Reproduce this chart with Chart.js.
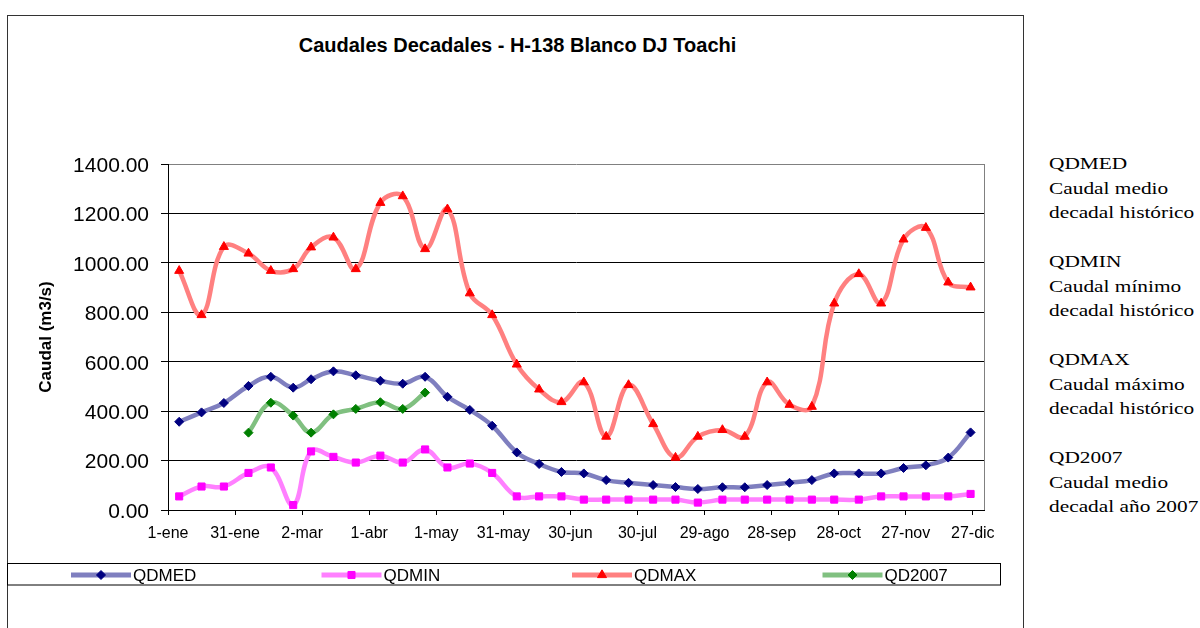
<!DOCTYPE html>
<html>
<head>
<meta charset="utf-8">
<title>Caudales Decadales - H-138 Blanco DJ Toachi</title>
<script src="https://cdn.jsdelivr.net/npm/chart.js@4.4.1/dist/chart.umd.min.js"></script>
<style>
  html, body { margin: 0; padding: 0; background: #fff; }
  body { width: 1200px; height: 628px; position: relative; overflow: hidden; }
  #marco { position: absolute; left: 7px; top: 15px; width: 1017px; height: 640px; border: 1px solid #333; box-sizing: border-box; }
  #grafico { position: absolute; left: 0; top: 0; }
  #titulo { position: absolute; left: 0; top: 33px; width: 1035px; text-align: center;
    font: bold 20px/24px "Liberation Sans", Arial, sans-serif; color: #000; }
  #notas { position: absolute; left: 1049px; top: 151px; color: #000; white-space: nowrap;
    font-family: "Liberation Serif", "Times New Roman", serif; font-size: 17.5px; line-height: 24.5px;
    transform: scaleX(1.22); transform-origin: 0 0; }
  #notas p { margin: 0 0 24.5px 0; }
</style>
</head>
<body>
<div id="marco"></div>
<div id="titulo">Caudales Decadales - H-138 Blanco DJ Toachi</div>
<canvas id="grafico" width="1030" height="628"></canvas>
<div id="notas">
  <p>QDMED<br>Caudal medio<br>decadal histórico</p>
  <p>QDMIN<br>Caudal mínimo<br>decadal histórico</p>
  <p>QDMAX<br>Caudal máximo<br>decadal histórico</p>
  <p>QD2007<br>Caudal medio<br>decadal año 2007</p>
</div>
<script>
// dia del anio (1-ene = 0) de cada decada: 6, 16 y 26 de cada mes
var diasDecada = [5, 15, 25, 36, 46, 56, 64, 74, 84, 95, 105, 115,
  125, 135, 145, 156, 166, 176, 186, 196, 206, 217, 227, 237,
  248, 258, 268, 278, 288, 298, 309, 319, 329, 339, 349, 359];

// etiquetas del eje x cada 30 dias
var diasEtiqueta = [0, 30, 60, 90, 120, 150, 180, 210, 240, 270, 300, 330, 360];
var etiquetasX = ['1-ene', '31-ene', '2-mar', '1-abr', '1-may', '31-may', '30-jun',
  '30-jul', '29-ago', '28-sep', '28-oct', '27-nov', '27-dic'];

var qdmed = [357, 395, 433, 502, 539, 495, 529, 561, 545, 523, 511, 539,
  458, 405, 341, 233, 186, 154, 148, 121, 110, 101, 93, 85,
  92, 92, 101, 110, 121, 148, 148, 148, 170, 181, 212, 314];
var qdmin = [55, 95, 95, 150, 172, 20, 237, 215, 192, 220, 192, 245,
  172, 188, 150, 55, 55, 55, 42, 42, 42, 42, 42, 30,
  42, 42, 42, 42, 42, 42, 42, 55, 55, 55, 55, 65];
var qdmax = [968, 789, 1065, 1038, 968, 975, 1063, 1103, 975, 1243, 1270, 1056,
  1217, 877, 789, 589, 488, 437, 517, 297, 506, 348, 212, 297,
  324, 297, 517, 426, 418, 836, 955, 836, 1095, 1142, 921, 901];
var qd2007 = [null, null, null, 313, 434, 382, 313, 387, 409, 436, 409, 475,
  null, null, null, null, null, null, null, null, null, null, null, null,
  null, null, null, null, null, null, null, null, null, null, null, null];

function serie(valores) {
  return valores.map(function (v, i) {
    return { x: diasDecada[i], y: v };
  });
}

function dataset(nombre, valores, linea, marca, estilo, radio, orden) {
  return {
    label: nombre,
    data: serie(valores),
    borderColor: linea,
    borderWidth: 4.5,
    pointStyle: estilo,
    pointRadius: radio,
    pointBackgroundColor: marca,
    pointBorderColor: marca,
    pointBorderWidth: 1,
    tension: 0.4,
    fill: false,
    order: orden
  };
}

var fuente = '"Liberation Sans", Arial, sans-serif';

// borde gris a la derecha del area de trazado
var bordePlugin = {
  id: 'bordePlot',
  beforeDatasetsDraw: function (chart) {
    var a = chart.chartArea, ctx = chart.ctx;
    ctx.save();
    ctx.strokeStyle = '#808080';
    ctx.lineWidth = 1;
    ctx.beginPath();
    ctx.moveTo(Math.round(a.right) + 0.5, a.top);
    ctx.lineTo(Math.round(a.right) + 0.5, a.bottom);
    ctx.stroke();
    ctx.restore();
  }
};

// leyenda en caja debajo del grafico, linea + marcador como en excel
var leyendaPlugin = {
  id: 'leyendaCaja',
  afterDraw: function (chart) {
    var ctx = chart.ctx;
    ctx.save();
    ctx.strokeStyle = '#000';
    ctx.lineWidth = 1;
    ctx.strokeRect(7.5, 563.5, 993, 21.5);
    chart.data.datasets.forEach(function (ds, i) {
      var x0 = 71 + i * 250.5, y = 575;
      ctx.strokeStyle = ds.borderColor;
      ctx.lineWidth = 5;
      ctx.beginPath();
      ctx.moveTo(x0, y);
      ctx.lineTo(x0 + 60, y);
      ctx.stroke();
      ctx.fillStyle = ds.pointBackgroundColor;
      ctx.strokeStyle = ds.pointBorderColor;
      ctx.lineWidth = 1;
      if (Chart.helpers && Chart.helpers.drawPoint) {
        Chart.helpers.drawPoint(ctx, { pointStyle: ds.pointStyle, radius: ds.pointRadius, rotation: 0, borderWidth: 1 }, x0 + 30, y);
      } else {
        ctx.fillRect(x0 + 26, y - 4, 8, 8);
      }
      ctx.fillStyle = '#000';
      ctx.font = '17px ' + fuente;
      ctx.textBaseline = 'middle';
      ctx.textAlign = 'left';
      ctx.fillText(ds.label, x0 + 62, y + 1);
    });
    ctx.restore();
  }
};

var ctx = document.getElementById('grafico').getContext('2d');
new Chart(ctx, {
  type: 'line',
  data: {
    datasets: [
      dataset('QDMED', qdmed, '#7f7fbf', '#000080', 'rectRot', 4.5, 4),
      dataset('QDMIN', qdmin, '#ff80ff', '#ff00ff', 'rect', 5, 3),
      dataset('QDMAX', qdmax, '#ff8080', '#ff0000', 'triangle', 5.2, 2),
      dataset('QD2007', qd2007, '#80c080', '#008000', 'rectRot', 4.5, 1)
    ]
  },
  options: {
    responsive: false,
    animation: false,
    layout: { padding: { left: 10, right: 46, top: 164, bottom: 78 } },
    plugins: {
      legend: { display: false },
      title: { display: false },
      tooltip: { enabled: false }
    },
    scales: {
      x: {
        type: 'linear',
        min: 0,
        max: 365,
        afterBuildTicks: function (scale) {
          scale.ticks = diasEtiqueta.map(function (d) { return { value: d }; });
        },
        afterFit: function (scale) { scale.height = 40; },
        ticks: {
          autoSkip: false,
          maxRotation: 0,
          padding: 9,
          color: '#000',
          font: { family: fuente, size: 16 },
          callback: function (v) { return etiquetasX[diasEtiqueta.indexOf(v)]; }
        },
        grid: { drawOnChartArea: false, drawTicks: true, tickLength: 5, tickColor: '#000' },
        border: { color: '#000', width: 1 }
      },
      y: {
        min: 0,
        max: 1400,
        afterFit: function (scale) { scale.width = 158; },
        ticks: {
          stepSize: 200,
          padding: 12,
          labelOffset: 2,
          color: '#000',
          font: { family: fuente, size: 21 },
          callback: function (v) { return v.toFixed(2); }
        },
        grid: {
          color: function (c) { return c.tick && c.tick.value === 1400 ? '#808080' : '#000'; },
          lineWidth: 1,
          tickLength: 7,
          tickColor: '#000'
        },
        border: { color: '#000', width: 1 },
        title: {
          display: true,
          text: 'Caudal (m3/s)',
          color: '#000',
          padding: { top: 26, bottom: 0 },
          font: { family: fuente, size: 17, weight: 'bold' }
        }
      }
    }
  },
  plugins: [bordePlugin, leyendaPlugin]
});
</script>
</body>
</html>
